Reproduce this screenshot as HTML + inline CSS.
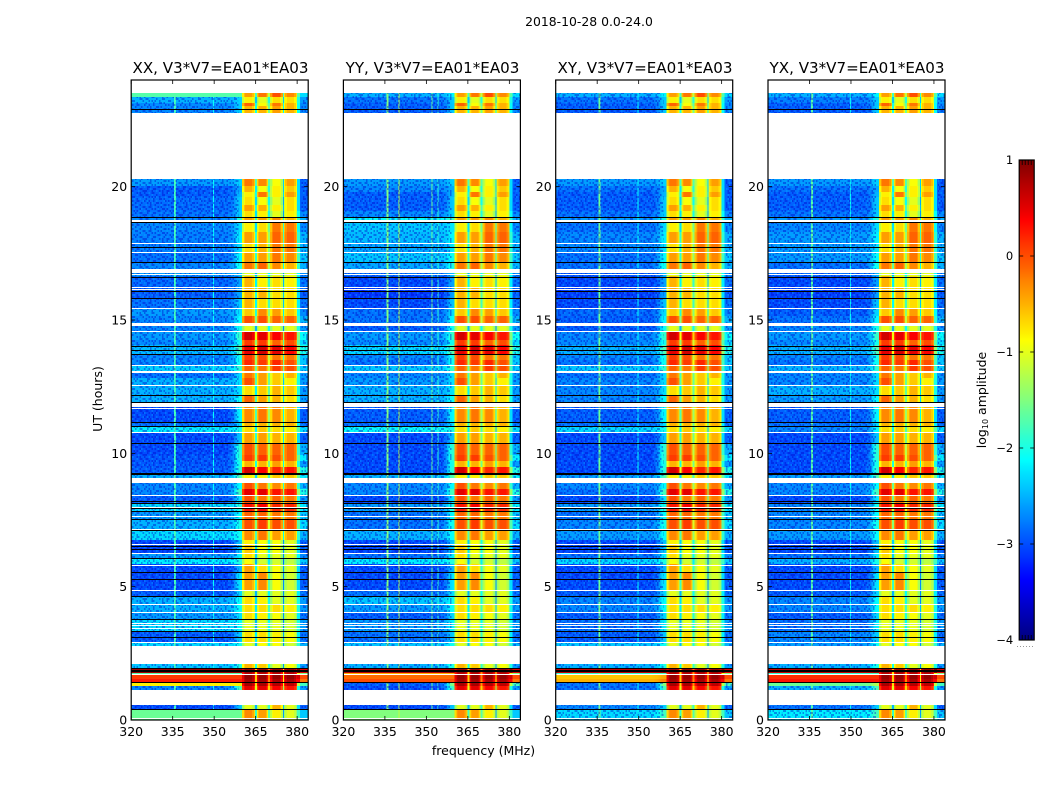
<!DOCTYPE html>
<html lang="en">
<head>
<meta charset="utf-8">
<title>2018-10-28 0.0-24.0</title>
<style>
html,body{margin:0;padding:0;background:#fff;}
svg{display:block;}
text{font-family:"DejaVu Sans","Liberation Sans",sans-serif;fill:#000;}
</style>
</head>
<body>
<svg id="figure" xmlns="http://www.w3.org/2000/svg" width="1050" height="800" viewBox="0 0 1050 800">
  <rect x="0" y="0" width="1050" height="800" fill="#fff"/>
  <text x="589" y="26" font-size="12.4" text-anchor="middle">2018-10-28 0.0-24.0</text>
  <text x="220.5" y="73" font-size="15.1" text-anchor="middle">XX, V3*V7=EA01*EA03</text>
  <text x="432.5" y="73" font-size="15.1" text-anchor="middle">YY, V3*V7=EA01*EA03</text>
  <text x="645" y="73" font-size="15.1" text-anchor="middle">XY, V3*V7=EA01*EA03</text>
  <text x="857" y="73" font-size="15.1" text-anchor="middle">YX, V3*V7=EA01*EA03</text>
  <text transform="translate(102,399) rotate(-90)" font-size="12.5" text-anchor="middle">UT (hours)</text>
  <text x="483.5" y="755" font-size="12.5" text-anchor="middle">frequency (MHz)</text>
  <text transform="translate(986,400) rotate(-90)" font-size="12.5" text-anchor="middle">log<tspan font-size="8" dy="2">10</tspan><tspan dy="-2"> amplitude</tspan></text>
  <defs id="figure-defs"></defs>
  <g id="panels"></g>
  <g id="colorbar"></g>
</svg>
<script>
// ---- chart data ----
const panelKeys = ['XX', 'YY', 'XY', 'YX'];
const xTickLabels = [320, 335, 350, 365, 380];
const yTickLabels = [0, 5, 10, 15, 20];
const colorbarTicks = [1, 0, -1, -2, -3, -4];

// observing blocks: start and end of each row, in hours
const rowTopHour = [23.51,23.36,23.14,23.03, 20.29,20.03,19.8,19.61,19.31,19.09,18.86, 18.68,18.3,17.89,17.55,17.18, 16.76,16.65,16.24,15.83,15.45,15.15, 14.78,14.59,14.25,14.06,13.73,13.5,13.31, 13.01,12.83,12.56,12.19, 11.74,11.18,11.03,10.8,10.39,9.94,9.71,9.49,9.23, 8.89,8.66,8.44,8.14,7.84,7.54,7.13,6.75,6.6,6.26,6.08,5.85,5.55,4.88,4.65,4.35,4.05,3.79,3.34,2.93, 2.1,1.95,1.76,1.69,1.54,1.39,1.28, 0.56,0.41];
const rowBottomHour = [23.36,23.14,23.03,22.76, 20.03,19.8,19.61,19.31,19.09,18.86,18.75, 18.3,17.89,17.55,17.18,16.91, 16.65,16.24,15.83,15.45,15.15,14.89, 14.59,14.25,14.06,13.73,13.5,13.31,13.09, 12.83,12.56,12.19,11.89, 11.18,11.03,10.8,10.39,9.94,9.71,9.49,9.23,9.08, 8.66,8.44,8.14,7.84,7.54,7.13,6.75,6.6,6.26,6.08,5.85,5.55,4.88,4.65,4.35,4.05,3.79,3.34,2.93,2.78, 1.95,1.76,1.69,1.54,1.39,1.28,1.13, 0.41,0];

// log10 amplitude of the quiet band (320-355 MHz) per row, per correlation
const quietXX = [-1.7,-2.5,-2.7,-2.7, -2.6,-2.9,-2.9,-2.85,-2.85,-2.8,-2.7, -2.7,-2.75,-2.75,-2.8,-2.7, -2.6,-2.85,-2.9,-2.8,-2.6,-2.7, -2.7,-2.6,-2.7,-2.45,-2.7,-2.7,-2.35, -2.8,-2.5,-2.5,-2.5, -3,-2.8,-2.2,-3,-3,-2.95,-2.95,-2.9,-2.5, -2.7,-2.7,-2.9,-2.3,-2.6,-2.5,-2.3,-3,-3,-2.6,-2.2,-3,-3,-2.9,-2.5,-2.5,-2.6,-2.3,-2.9,-2.3, -2.4,0.85,-1.7,0.1,0.25,-0.8,-2.7, -3,-1.6];
const quietYY = [-2.5,-2.8,-2.9,-2.9, -2.6,-2.7,-2.9,-2.9,-2.9,-2.7,-2.1, -2.4,-2.45,-2.55,-2.4,-2.55, -2.8,-3,-3.1,-3,-2.8,-2.8, -2.9,-2.6,-2.7,-2.3,-2.7,-2.8,-2.4, -2.7,-2.6,-2.5,-2.5, -2.9,-2.8,-2.1,-3,-3,-3,-3,-3,-2.5, -2.7,-2.7,-3,-2.6,-2.8,-2.8,-2.5,-3,-3,-2.8,-2.2,-3,-3,-2.8,-2.4,-2.6,-2.9,-2.6,-2.8,-2.4, -2.5,0.7,-0.5,-0.15,0,-2.9,-3, -3,-1.5];
const quietXY = [-2.5,-2.8,-2.9,-2.9, -2.6,-2.8,-2.9,-2.9,-2.9,-2.8,-2.6, -2.8,-2.7,-2.7,-2.8,-2.8, -2.9,-3,-3.05,-3,-2.85,-2.9, -2.9,-2.7,-2.7,-2.5,-2.7,-2.8,-2.4, -2.8,-2.7,-2.7,-2.7, -2.9,-2.8,-2.3,-3,-3,-3,-3,-3,-2.6, -2.7,-2.8,-3,-2.6,-2.8,-2.7,-2.6,-3,-3,-2.8,-2.3,-3,-3,-2.9,-2.7,-2.7,-2.9,-2.8,-2.9,-2.4, -2.5,0.65,-1.9,-0.6,-0.5,-2.8,-2.8, -2.7,-2.3];
const quietYX = [-2.5,-2.75,-2.9,-2.9, -2.6,-2.8,-2.9,-2.9,-2.9,-2.8,-2.6, -2.7,-2.6,-2.6,-2.6,-2.8, -2.85,-3,-3.05,-3,-2.9,-2.8, -2.7,-2.6,-2.7,-2.5,-2.7,-2.8,-2.5, -2.7,-2.7,-2.5,-2.6, -2.9,-2.8,-2.7,-3,-3,-3,-3,-3,-2.6, -2.7,-2.7,-3,-2.7,-2.7,-2.7,-2.6,-3,-3,-2.8,-2.5,-3,-3,-2.9,-2.7,-2.7,-2.9,-2.8,-2.7,-2.6, -2.5,0.65,-1.9,0.15,0.3,-1.6,-2.5, -2.8,-2.2];

// log10 amplitude of the four bright sub-bands per row
const subBand1 = [-0.4,-0.8,-0.1,-0.5, -0.2,-0.5,-0.8,-0.7,-0.4,-0.7,-0.4, -0.8,-0.4,-0.7,-0.4,-0.2, -1,-0.5,-0.5,-0.5,-0.6,0, -1,0.6,0.1,0.5,0.1,0.2,-0.1, -0.2,0,-0.7,-0.1, -0.3,-0.5,-0.7,-0.4,0,0.1,-0.5,0.6,-0.8, 0,0.5,0,0.3,-0.1,0,-0.3,-0.8,-0.6,-0.7,-0.9,-0.4,-0.4,-1,-0.7,-0.7,-0.7,-1,-0.7,-1, -0.5,0.9,0.7,0.9,0.85,0.8,0.5, -1,-0.3];
const subBand2 = [-0.2,-1,-0.9,-0.5, -0.3,-0.9,-0.2,-0.9,-0.5,-0.8,-0.4, -0.7,-0.4,-0.5,-0.4,-0.1, -1,-0.8,-0.5,-0.7,-0.3,0, -1,0.5,0.1,0.6,0,0.1,-0.2, -0.4,-0.4,-0.6,-0.4, -0.2,-0.5,-0.6,-0.4,-0.1,0.1,-0.5,0.4,-0.8, -0.2,0.5,-0.2,0.4,-0.1,0.1,-0.2,-0.9,-0.9,-1,-1.1,-0.7,-0.3,-1,-0.8,-0.7,-0.8,-1,-0.7,-0.9, -0.6,0.9,0.7,0.9,0.85,0.8,0.5, -1,-0.4];
const subBand3 = [0,-0.7,-0.2,-0.4, -0.9,-0.8,-0.8,-1,-0.8,-1,-0.3, -0.2,-0.1,-0.2,-0.2,-0.3, -1,-0.7,-0.7,-0.7,-0.4,-0.1, -1,0.4,-0.1,0.5,-0.2,0.2,0.1, -0.6,-0.6,-0.5,-0.5, -0.3,-0.5,-0.7,-0.5,-0.1,0,-0.4,0.2,-0.6, -0.3,0.3,-0.1,0.2,-0.2,0,-0.4,-0.9,-0.9,-1,-1.1,-0.9,-0.9,-1,-1,-0.7,-0.9,-1,-0.8,-0.9, -1,0.9,0.7,0.9,0.8,0.75,0.4, -0.5,-0.8];
const subBand4 = [-0.3,-0.7,-0.5,-0.5, -0.4,-0.6,-0.4,-0.7,-0.7,-0.8,-0.5, -0.2,-0.1,-0.2,-0.3,-0.5, -1,-0.8,-0.7,-0.7,-0.6,-0.1, -1,0.3,0,0.4,-0.2,0,0, -0.5,-0.8,-0.6,-0.7, -0.5,-0.5,-0.8,-0.5,-0.1,-0.1,-0.5,0.3,-0.6, -0.2,0.3,-0.2,0.2,-0.2,0,-0.4,-1,-1,-1,-1.2,-1,-1.1,-1,-1,-0.8,-1,-1.1,-0.9,-1.1, -0.9,0.9,0.7,0.9,0.8,0.7,0.3, -1,-1];

// shoulder below the bright bands (356-360 MHz) and the band above 380 MHz
const shoulderLevel = [-2.1,-2.3,-2.3,-2.3, -2.3,-2.5,-2.4,-2.3,-2.3,-2.3,-1.8, -2.2,-2.1,-2.2,-2,-1.9, -2.4,-2.5,-2.5,-2.3,-2.2,-2, -1.9,-1.7,-1.9,-1.6,-1.9,-1.9,-1.8, -2.2,-2.2,-2.2,-2, -2,-2.2,-2,-2.3,-1.7,-1.7,-1.8,-1.7,-1.6, -2,-1.6,-2.1,-1.9,-2,-1.9,-2,-2.3,-2.3,-2.1,-1.9,-2.4,-2.1,-2.2,-2,-2,-2.2,-2.1,-2.3,-2, -1.9,0.85,-1.8,-0.4,-0.2,-1.2,-1.6, -2.3,-1.7];
const upperEdgeLevel = [-2.3,-2.6,-2.7,-2.7, -2.9,-2.9,-2.9,-2.9,-2.9,-2.7,-2.5, -2.7,-2.5,-2.5,-2.4,-2.5, -2.7,-2.8,-2.9,-2.8,-2.7,-2.5, -2.6,-2.1,-2.3,-2,-2.4,-2.4,-2.4, -2.6,-2.6,-2.6,-2.6, -2.9,-2.8,-2.3,-2.9,-2.5,-2.2,-2.6,-2,-2.2, -2.5,-2,-2.6,-2.2,-2.4,-2.3,-2.5,-2.9,-2.9,-2.7,-2.4,-2.9,-2.9,-2.8,-2.6,-2.6,-2.8,-2.6,-2.8,-2.5, -2.6,0.5,-1.5,0,-0.2,-1.8,-2.6, -2.9,-2.4];

// spectral layout in MHz
const subBandStart = [360.3, 365.4, 370.4, 375.4];
const subBandEnd = [364.8, 369.7, 374.8, 380];
const gapDrop = [-1.5, -1.1, -1.7];
const shoulderFreq = [355, 357, 358.5, 360.3];
const shoulderWeight = [0, 0.2, 0.75, 0.9];
// narrow-band interference: frequency and log10 amplitude per correlation
const spikeFreqXX = [335.9, 350];
const spikeLevelXX = [-1.8, -2.1];
const spikeFreqYY = [335.9, 340, 352, 354];
const spikeLevelYY = [-1.5, -1.2, -1.6, -1.9];
const spikeFreqXY = [335.9, 350];
const spikeLevelXY = [-1.6, -2.1];
const spikeFreqYX = [335.9, 350];
const spikeLevelYX = [-1.7, -2.1];

// flagged integrations: hours of thin white (no data) and black (zero) rows
const whiteLineHours = [17.88,17.54,16.73,16.25,16.15,15.46,14.6,13.32,12.56,11.71,10.79,8.44,8,7.65,7.16,6.59,6.25,5.82,4.86,4.35,4.06,3.65,3.55,3.46,2.91,1.73,0.09];
const blackLineHours = [22.91,18.87,18.66,17.72,17.16,16.62,16.1,15.81,14.04,13.88,13.71,12.18,11.91,11.16,11.03,10.38,9.27,9.21,8.21,8.15,7.95,7.84,7.54,7.13,6.53,6.41,6.09,5.56,5.28,4.65,3.78,3.34,3.12,1.94,1.89,1.85,1.41,0.41];

// decorative receiver-noise grain laid over the quiet band (d dark, l light, . none)
const grainTile = [
  'd..l.dd...l.d..dl..d.d..',
  '.dd..l..d...dd.....l.dd.',
  'l..d.d.dl.d...l.dd.....d',
  '.d...ld...dd.d...l.d.l..',
  'd.ld..d.l....ld.d..dd..l',
  '..d.dl..dd.d....l.d...d.',
  '.l..d..d...l.dd.d..l.d..',
  'd..dd.l..d.d...l..dd...d',
  '.d...d.d.l..dd.d.l...dl.',
  'l.dd.....dd...d..d.d.l..',
  '..d.l.dd...l.d.l..d..dd.',
  'dd...d..l.d.d..dd...l..d'
];
const grainColors = { d: '#0000c8', l: '#00a8ff' };

// ---- per-panel lookups ----
const quietByPanel = [quietXX, quietYY, quietXY, quietYX];
const spikeFreqByPanel = [spikeFreqXX, spikeFreqYY, spikeFreqXY, spikeFreqYX];
const spikeLevelByPanel = [spikeLevelXX, spikeLevelYY, spikeLevelXY, spikeLevelYX];
const subBands = [subBand1, subBand2, subBand3, subBand4];

// ---- layout ----
const SVGNS = 'http://www.w3.org/2000/svg';
const panelLeft = [131.2, 343.4, 555.7, 768];
const axisWidth = 177, axisTop = 80, axisBottom = 720;
const freqMin = 320, freqMax = 384, hourMax = 24, channelWidth = (freqMax - freqMin) / axisWidth;
const levelMin = -4, levelMax = 1;
const barLeft = 1019.2, barRight = 1034.2, barTop = 160, barBottom = 640;
const grainFreqEnd = 359, grainUpperStart = 381.5, grainSkipAbove = -2;

function xScale(panel, freq) {
  return panelLeft[panel] + (freq - freqMin) / (freqMax - freqMin) * axisWidth;
}
function yScale(hour) {
  return axisBottom - hour / hourMax * (axisBottom - axisTop);
}
function barScale(level) {
  return barBottom - (level - levelMin) / (levelMax - levelMin) * (barBottom - barTop);
}
function clamp01(v) { return Math.max(0, Math.min(1, v)); }
function jet(level) {
  const t = Math.round(clamp01((level - levelMin) / (levelMax - levelMin)) * 255) / 255;
  const r = clamp01(Math.min(4 * t - 1.5, -4 * t + 4.5));
  const g = clamp01(Math.min(4 * t - 0.5, -4 * t + 3.5));
  const b = clamp01(Math.min(4 * t + 0.5, -4 * t + 2.5));
  return 'rgb(' + Math.round(r * 255) + ',' + Math.round(g * 255) + ',' + Math.round(b * 255) + ')';
}
function shoulderAt(freq) {
  if (freq <= shoulderFreq[0]) return 0;
  for (let i = 1; i < shoulderFreq.length; i++) {
    if (freq <= shoulderFreq[i]) {
      const a = (freq - shoulderFreq[i - 1]) / (shoulderFreq[i] - shoulderFreq[i - 1]);
      return shoulderWeight[i - 1] + a * (shoulderWeight[i] - shoulderWeight[i - 1]);
    }
  }
  return 1;
}
function cellLevel(panel, row, freq) {
  for (let k = 0; k < subBands.length; k++) {
    if (freq >= subBandStart[k] && freq < subBandEnd[k]) {
      const edge = Math.min(freq - subBandStart[k], subBandEnd[k] - freq);
      return subBands[k][row] - (edge < 0.45 ? 0.4 : edge < 0.9 ? 0.15 : 0);
    }
    if (k < 3 && freq >= subBandEnd[k] && freq < subBandStart[k + 1]) {
      return (subBands[k][row] + subBands[k + 1][row]) / 2 + gapDrop[k];
    }
  }
  if (freq >= subBandEnd[3]) {
    return upperEdgeLevel[row] + (freq < subBandEnd[3] + 1.2 ? 0.6 : 0);
  }
  const quiet = quietByPanel[panel][row];
  let value = quiet + (Math.max(shoulderLevel[row], quiet) - quiet) * shoulderAt(freq);
  const spikes = spikeFreqByPanel[panel];
  for (let s = 0; s < spikes.length; s++) {
    if (Math.abs(freq - spikes[s]) < channelWidth / 2 + 0.01) {
      value = Math.max(value, spikeLevelByPanel[panel][s]);
    }
  }
  return value;
}
function make(tag, parent, attrs) {
  const node = document.createElementNS(SVGNS, tag);
  for (const key in attrs) node.setAttribute(key, attrs[key]);
  parent.appendChild(node);
  return node;
}

// ---- grain pattern ----
const defsNode = document.getElementById('figure-defs');
const grainPattern = make('pattern', defsNode, { id: 'grain', patternUnits: 'userSpaceOnUse', x: 0, y: 0, width: 36, height: 24 });
grainTile.forEach(function (line, gy) {
  line.split('').forEach(function (ch, gx) {
    if (grainColors[ch]) {
      make('rect', grainPattern, { x: gx * 1.5, y: gy * 2, width: 1.5, height: 2, fill: grainColors[ch], opacity: 0.4 });
    }
  });
});

// ---- panels ----
const panelsGroup = document.getElementById('panels');
panelKeys.forEach(function (key, p) {
  const group = make('g', panelsGroup, {});
  
  
  const heat = make('g', group, { 'shape-rendering': 'crispEdges' });
  
  

  rowTopHour.forEach(function (topHour, r) {
    const yTop = Math.round(yScale(topHour));
    const yBottom = Math.round(yScale(rowBottomHour[r]));
    let runStart = freqMin;
    let runColor = null;
    const channelCount = axisWidth;
    for (let c = 0; c <= channelCount; c++) {
      const f = freqMin + c * channelWidth;
      const color = c < channelCount ? jet(cellLevel(p, r, f + channelWidth / 2)) : null;
      if (color !== runColor) {
        if (runColor !== null) {
          const x0 = xScale(p, runStart);
          const cell = make('rect', heat, { x: x0.toFixed(1), y: yTop, width: (xScale(p, f) - x0).toFixed(1), height: yBottom - yTop, fill: runColor });
          
          
        }
        runStart = f;
        runColor = color;
      }
    }
    if (quietByPanel[p][r] < grainSkipAbove) {
      const grainLow = make('rect', heat, { x: xScale(p, freqMin), y: yTop, width: xScale(p, grainFreqEnd) - xScale(p, freqMin), height: yBottom - yTop, fill: 'url(#grain)' });
      
      
      const grainHigh = make('rect', heat, { x: xScale(p, grainUpperStart), y: yTop, width: xScale(p, freqMax) - xScale(p, grainUpperStart), height: yBottom - yTop, fill: 'url(#grain)' });
      
      
    }
  });

  whiteLineHours.forEach(function (hour) {
    const line = make('rect', heat, { x: xScale(p, freqMin), y: Math.round(yScale(hour)), width: axisWidth, height: 1, fill: '#fff' });
    
    
  });
  blackLineHours.forEach(function (hour) {
    const line = make('rect', heat, { x: xScale(p, freqMin), y: Math.round(yScale(hour)), width: axisWidth, height: 1, fill: '#000' });
    
    
  });

  xTickLabels.forEach(function (tick) {
    const x = xScale(p, tick);
    const lower = make('line', group, { x1: x, x2: x, y1: axisBottom, y2: axisBottom - 4, stroke: '#000', 'stroke-width': 0.8 });
    
    
    const upper = make('line', group, { x1: x, x2: x, y1: axisTop, y2: axisTop + 4, stroke: '#000', 'stroke-width': 0.8 });
    
    
    const label = make('text', group, { x: x, y: axisBottom + 16, 'font-size': 12.5, 'text-anchor': 'middle' });
    label.textContent = tick;
    
    
  });
  yTickLabels.forEach(function (tick) {
    const y = yScale(tick);
    const left = panelLeft[p];
    const inner = make('line', group, { x1: left, x2: left + 4, y1: y, y2: y, stroke: '#000', 'stroke-width': 0.8 });
    
    
    const outer = make('line', group, { x1: left + axisWidth, x2: left + axisWidth - 4, y1: y, y2: y, stroke: '#000', 'stroke-width': 0.8 });
    
    
    const label = make('text', group, { x: left - 4, y: y + 4.5, 'font-size': 12.5, 'text-anchor': 'end' });
    label.textContent = tick;
    
    
  });

  const frame = make('rect', group, { x: panelLeft[p], y: axisTop, width: axisWidth, height: axisBottom - axisTop, fill: 'none', stroke: '#000', 'stroke-width': 1.2 });
  
  
});

// ---- colorbar ----
const barGroup = document.getElementById('colorbar');
const gradient = make('linearGradient', defsNode, { id: 'jetGradient', x1: 0, y1: 1, x2: 0, y2: 0 });
for (let i = 0; i <= 40; i++) {
  make('stop', gradient, { offset: i / 40, 'stop-color': jet(levelMin + (levelMax - levelMin) * i / 40) });
}
const barFill = make('rect', barGroup, { x: barLeft, y: barTop, width: barRight - barLeft, height: barBottom - barTop, fill: 'url(#jetGradient)', stroke: '#000', 'stroke-width': 1.2 });


colorbarTicks.forEach(function (tick) {
  const y = barScale(tick);
  const left = make('line', barGroup, { x1: barLeft, x2: barLeft + 4, y1: y, y2: y, stroke: '#000', 'stroke-width': 0.8 });
  
  
  const right = make('line', barGroup, { x1: barRight, x2: barRight - 4, y1: y, y2: y, stroke: '#000', 'stroke-width': 0.8 });
  
  
  const label = make('text', barGroup, { x: barLeft - 6, y: y + 4, 'font-size': 11.5, 'text-anchor': 'end' });
  label.textContent = String(tick).replace('-', '\u2212');
  
  
});
for (let i = 1; i <= 4; i++) {
  const x = barLeft + i * 3;
  const topMinor = make('line', barGroup, { x1: x, x2: x, y1: barTop, y2: barTop + 5, stroke: '#000', 'stroke-width': 0.8 });
  
  
  const bottomMinor = make('line', barGroup, { x1: x, x2: x, y1: barBottom, y2: barBottom - 5, stroke: '#000', 'stroke-width': 0.8 });
  
  
}
for (let i = 0; i < 6; i++) {
  const dot = make('rect', barGroup, { x: 1017 + i * 3, y: 646, width: 1, height: 1, fill: '#999' });
  
  
}
</script>
</body>
</html>
